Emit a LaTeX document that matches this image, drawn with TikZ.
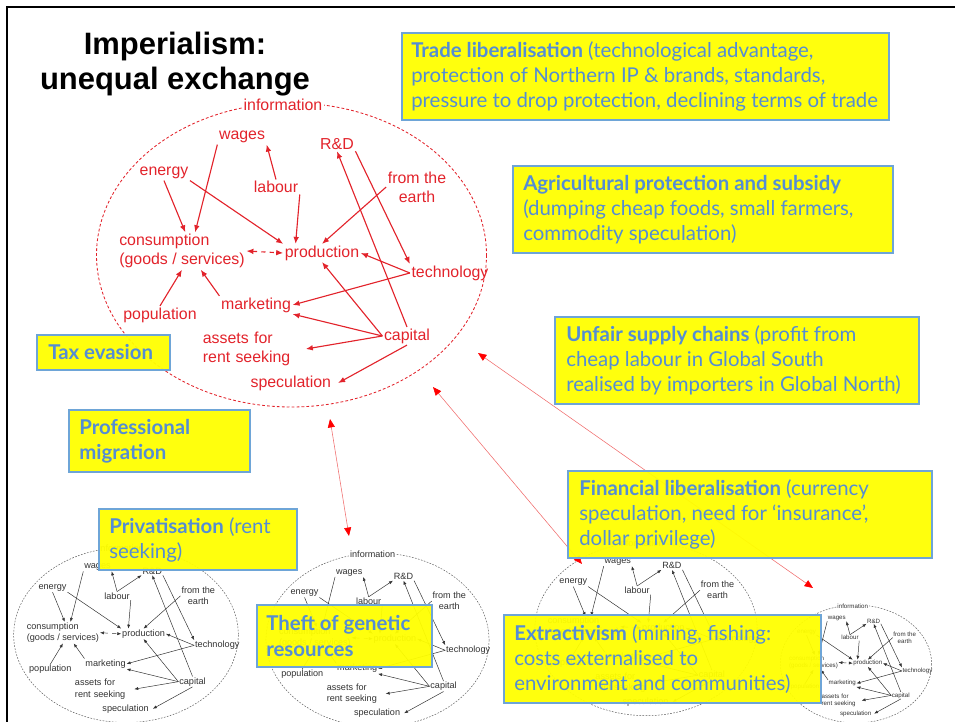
\documentclass[tikz,border=0pt]{standalone}
\usepackage{fontspec}
\usepackage{xcolor}
\usepackage{tikz}
\usetikzlibrary{arrows.meta}
\setmainfont{Liberation Sans}
\newfontfamily\boxfont{Lato}
\definecolor{netred}{RGB}{226, 35, 43}
\definecolor{netgrey}{RGB}{50, 50, 50}
\definecolor{boxyellow}{RGB}{255, 255, 0}
\definecolor{boxblue}{RGB}{84, 141, 212}
\definecolor{boxedge}{RGB}{110, 165, 215}
\definecolor{linkred}{RGB}{240, 110, 110}

\tikzset{
  nettext/.style={text=netred, font=\fontsize{11.3}{13.7}\selectfont, inner sep=1pt, align=left},
  netarrow/.style={draw=netred, line width=.8pt, ->, >={Latex[length=5pt,width=4pt]}},
  netring/.style={draw=netred, line width=.6pt, dash pattern=on 2pt off 1.5pt},
  greynet/.style={
    nettext/.append style={text=netgrey},
    netarrow/.append style={draw=netgrey, line width=.35pt, >={Latex[length=2.8pt,width=2.2pt]}},
    netring/.append style={draw=netgrey!80, line width=.35pt, dash pattern=on 1.2pt off 1pt}},
  gapbox/.style={draw=boxedge, line width=.8pt, fill=boxyellow, fill opacity=.95},
  gaptext/.style={text=boxblue, font=\boxfont\fontsize{14.5}{17.8}\selectfont, align=left, inner sep=0pt, anchor=west},
  link/.style={draw=linkred, line width=.4pt, <->, >={Triangle[length=6pt,width=5pt,color=red]}},
  pics/econ/.style={code={
    \draw[netring] (0,0) ellipse (195 and 152);
    \node[nettext, fill=white] (-info) at (-8.5,-150) {information};
    \node[nettext] (-wages) at (-49.5,-118) {wages};
    \node[nettext] (-rd) at (45.5,-111) {R\&D};
    \node[nettext] (-energy) at (-127.5,-82) {energy};
    \node[nettext] (-labour) at (-15.5,-68) {labour};
    \node[nettext, align=center] (-earth) at (125.5,-68) {from the\\earth};
    \node[nettext] (-cons) at (-109.5,-4) {consumption\\(goods / services)};
    \node[nettext] (-prod) at (30.5,-2) {production};
    \node[nettext] (-tech) at (158.5,18) {technology};
    \node[nettext] (-mkt) at (-35.5,50) {marketing};
    \node[nettext] (-pop) at (-131.5,60) {population};
    \node[nettext] (-cap) at (115.5,81) {capital};
    \node[nettext, text width=72pt] (-assets) at (-38,94) {assets for\\rent seeking};
    \node[nettext, text width=61pt] (-spec) at (2,128) {speculation};
    \draw[netarrow] (-labour.north) -- (-wages.south east);
    \draw[netarrow] (-wages.south west) -- (-cons.55);
    \draw[netarrow] (-energy.south) -- (-cons.80);
    \draw[netarrow] (-energy.south east) -- (-prod.north west);
    \draw[netarrow] (-labour.south east) -- (-prod.161);
    \draw[netarrow] (-earth.west) -- (-prod.north);
    \draw[netarrow] (-rd.south east) -- (-tech.north west);
    \draw[netarrow] (-cap.north) -- (-rd.south);
    \draw[netarrow] (-tech.west) -- (-prod.east);
    \draw[netarrow] (-tech.west) -- (-mkt.east);
    \draw[netarrow, dashed, <->] (-cons.east) -- (-prod.west);
    \draw[netarrow] (-pop.north) -- (-cons.south);
    \draw[netarrow] (-mkt.north west) -- (-cons.-45);
    \draw[netarrow] (-cap.west) -- (-prod.south);
    \draw[netarrow] (-cap.west) -- (-mkt.south east);
    \draw[netarrow] (-cap.west) -- (-assets.east);
    \draw[netarrow] (-cap.south) -- (-spec.east);
  }}
}

\begin{document}
\begin{tikzpicture}[x=0.025cm, y=-0.025cm]
  \useasboundingbox (0,0) rectangle (955,722);
  % slide frame
  \draw[line width=1.4pt] (7,722) -- (7,7) -- (955,7);
  \node[font=\bfseries\fontsize{22}{24.8}\selectfont, align=center] (title) at (175,64) {Imperialism:\\unequal exchange};

  % the big economy, in red
  \pic (main) at (291.5,255) {econ};

  % the small grey economies
  \foreach \nm/\cx/\cy/\sc in {s1/126/635/.576, s2/377.5/640/.572, s3/646/629/.57, s4/856/664/.388}{
    \begin{scope}[shift={(\cx,\cy)}, scale=\sc, transform shape]
      \pic[greynet] (\nm) {econ};
      \draw[greynet, netarrow] (\nm-labour.north) -- (\nm-rd.south west);
    \end{scope}
  }

  % flows between them
  \coordinate (a1) at (330,419);
  \coordinate (b1) at (349,536);
  \coordinate (a2) at (433,387);
  \coordinate (b2) at (582,564);
  \coordinate (a3) at (478,353);
  \coordinate (b3) at (813,588);
  \draw[link] (a1) -- (b1);
  \draw[link] (a2) -- (b2);
  \draw[link] (a3) -- (b3);

  % mechanisms
  \draw[gapbox] (402,33) rectangle (889,120);
  \node[gaptext] (trade) at (411,76.5) {\textbf{Trade liberalisation} (technological advantage,\\protection of Northern IP \& brands, standards,\\pressure to drop protection, declining terms of trade};
  \draw[gapbox] (513,166) rectangle (893,253);
  \node[gaptext] (agri) at (523,209.5) {\textbf{Agricultural protection and subsidy}\\(dumping cheap foods, small farmers,\\commodity speculation)};
  \draw[gapbox] (555,317) rectangle (919,404);
  \node[gaptext] (supply) at (566,360.5) {\textbf{Unfair supply chains} (profit from\\cheap labour in Global South\\realised by importers in Global North)};
  \draw[gapbox] (568,471) rectangle (932,558);
  \node[gaptext] (finance) at (579,514.5) {\textbf{Financial liberalisation} (currency\\speculation, need for ‘insurance’,\\dollar privilege)};
  \draw[gapbox] (37,335) rectangle (170,370);
  \node[gaptext] (tax) at (48,352.5) {\textbf{Tax evasion}};
  \draw[gapbox] (69,410) rectangle (250,472);
  \node[gaptext] (prof) at (79,441) {\textbf{Professional}\\\textbf{migration}};
  \draw[gapbox] (99,509) rectangle (297,570);
  \node[gaptext] (priv) at (109,539.5) {\textbf{Privatisation} (rent\\seeking)};
  \draw[gapbox] (257,605) rectangle (432,667);
  \node[gaptext] (theft) at (266,636) {\textbf{Theft of genetic}\\\textbf{resources}};
  \draw[gapbox] (504,615) rectangle (821,703);
  \node[gaptext] (extract) at (514,659) {\textbf{Extractivism} (mining, fishing:\\costs externalised to\\environment and communities)};
\end{tikzpicture}
\end{document}
